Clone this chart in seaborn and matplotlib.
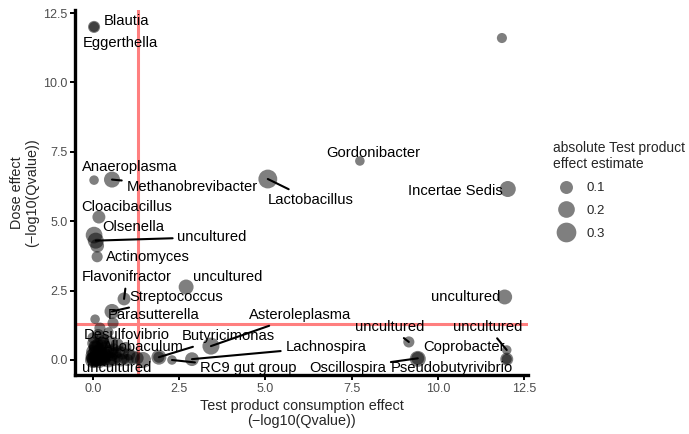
import numpy as np
import pandas as pd
import matplotlib
matplotlib.use("Agg")
import matplotlib.pyplot as plt
from matplotlib.lines import Line2D
import seaborn as sns

# genus-level results
genus = [
    "Blautia", "Eggerthella", "", "Gordonibacter", "Incertae Sedis",
    "Lactobacillus", "Anaeroplasma", "Methanobrevibacter", "Cloacibacillus",
    "Olsenella", "uncultured", "", "Actinomyces", "Flavonifractor",
    "Streptococcus", "Parasutterella", "uncultured", "uncultured", "", "", "",
    "Asteroleplasma", "Butyricimonas", "", "Lachnospira", "RC9 gut group", "",
    "uncultured", "uncultured", "Coprobacter", "Oscillospira",
    "Pseudobutyrivibrio", "Desulfovibrio", "Allobaculum", "uncultured",
]
consumption = [
    0.03, 0.03, 11.86, 7.74, 12.03,
    5.07, 0.03, 0.55, 0.17,
    0.03, 0.08, 0.12, 0.12, 0.90,
    0.55, 0.58, 2.70, 11.94, 0.06, 12.00, 0.20,
    3.42, 1.91, 1.91, 2.87, 2.29, 1.45,
    9.16, 12.00, 12.00, 9.42,
    9.42, 0.30, 0.50, 0.05,
]
dose = [
    12.00, 12.00, 11.60, 7.17, 6.16,
    6.52, 6.48, 6.50, 5.15,
    4.50, 4.30, 4.12, 3.72, 2.20,
    1.75, 1.33, 2.63, 2.27, 1.47, 0.03, 1.15,
    0.50, 0.10, 0.10, 0.03, 0.00, 0.00,
    0.65, 0.36, 0.03, 0.06,
    0.04, 0.60, 0.30, 0.00,
]
effect = [
    0.08, 0.04, 0.04, 0.03, 0.18,
    0.27, 0.03, 0.18, 0.10,
    0.20, 0.18, 0.12, 0.06, 0.10,
    0.15, 0.06, 0.15, 0.15, 0.03, 0.04, 0.06,
    0.21, 0.15, 0.06, 0.12, 0.03, 0.18,
    0.06, 0.03, 0.10, 0.10,
    0.18, 0.10, 0.10, 0.15,
]

# unlabelled genera crowded near the origin
cluster_consumption = [0.00, 0.02, 0.10, 0.15, 0.20, 0.25, 0.30, 0.00, 0.05,
                       0.10, 0.35, 0.40, 0.50, 0.60, 0.70, 0.80, 0.90, 1.00,
                       1.15, 1.28, 0.00, 0.15, 0.30, 0.45, 0.00, 0.03, 0.08,
                       0.12, 0.18, 0.22, 0.28, 0.33, 0.05, 0.10, 0.20, 0.40,
                       0.45, 0.55, 0.65, 0.02, 0.07, 0.13, 0.25, 0.35, 0.00,
                       0.60, 0.75, 0.85, 1.05, 0.70, 0.95, 0.50, 0.25]
cluster_dose = [0.05, 0.10, 0.00, 0.20, 0.05, 0.30, 0.10, 0.30, 0.50,
                0.40, 0.00, 0.15, 0.05, 0.00, 0.10, 0.00, 0.05, 0.00,
                0.10, 0.07, 0.80, 0.90, 0.70, 1.00, 0.00, 0.02, 0.05,
                0.10, 0.00, 0.15, 0.05, 0.20, 0.25, 0.15, 0.35, 0.30,
                0.00, 0.20, 0.25, 0.60, 0.45, 0.55, 0.50, 0.45, 0.15,
                0.40, 0.30, 0.25, 0.20, 0.55, 0.45, 0.65, 0.75]
cluster_effect = [0.12, 0.06, 0.10, 0.08, 0.15, 0.06, 0.10, 0.12, 0.08,
                  0.15, 0.06, 0.10, 0.12, 0.08, 0.06, 0.10, 0.06, 0.08,
                  0.12, 0.10, 0.06, 0.08, 0.06, 0.04, 0.18, 0.15, 0.12,
                  0.15, 0.18, 0.12, 0.15, 0.10, 0.12, 0.15, 0.10, 0.12,
                  0.15, 0.10, 0.08, 0.10, 0.12, 0.08, 0.10, 0.08, 0.15,
                  0.06, 0.08, 0.10, 0.08, 0.10, 0.06, 0.08, 0.10]

df = pd.concat([
    pd.DataFrame({"genus": genus, "consumption": consumption,
                  "dose": dose, "effect": effect}),
    pd.DataFrame({"genus": "", "consumption": cluster_consumption,
                  "dose": cluster_dose, "effect": cluster_effect}),
], ignore_index=True)

# label placement (repel-style, done by hand) and whether a segment is drawn
label_pos = {
    0: (0.96, 12.21, False), 1: (0.78, 11.42, False), 3: (8.14, 7.46, False),
    4: (10.50, 6.09, False), 5: (6.32, 5.76, True), 6: (1.07, 6.95, False),
    7: (2.87, 6.23, True), 8: (0.99, 5.51, False), 9: (1.16, 4.79, False),
    10: (3.45, 4.43, True), 12: (1.60, 3.71, False), 13: (0.98, 2.99, True),
    14: (2.40, 2.27, True), 15: (1.77, 1.62, False), 16: (3.91, 2.99, False),
    17: (10.80, 2.27, False), 21: (6.00, 1.62, True), 22: (3.91, 0.86, True),
    24: (6.75, 0.47, True), 25: (4.49, -0.29, True), 27: (8.60, 1.19, True),
    28: (11.45, 1.19, True), 29: (10.75, 0.47, False), 30: (7.39, -0.29, True),
    31: (10.40, -0.29, False), 32: (0.98, 0.90, False), 33: (1.45, 0.47, False),
    34: (0.69, -0.29, False),
}

sns.set_theme(style="ticks")
plt.rcParams["font.family"] = ["Liberation Sans", "DejaVu Sans"]

fig = plt.figure(figsize=(6.89, 4.34), dpi=100)
ax = fig.add_axes([0.109, 0.136, 0.657, 0.841])

size_norm = (0.0, 0.35)
size_range = (30, 230)
sns.scatterplot(data=df, x="consumption", y="dose", size="effect",
                sizes=size_range, size_norm=size_norm, color="black",
                alpha=0.5, linewidth=0, legend=False, ax=ax, zorder=3)

ax.axvline(-np.log10(0.05), color="#ff7f7f", lw=2.2, zorder=2)
ax.axhline(-np.log10(0.05), color="#ff7f7f", lw=2.2, zorder=2)

for i, (tx, ty, seg) in label_pos.items():
    px, py = df.loc[i, "consumption"], df.loc[i, "dose"]
    arrow = dict(arrowstyle="-", color="black", lw=1.5,
                 shrinkA=1, shrinkB=0) if seg else None
    ax.annotate(df.loc[i, "genus"], xy=(px, py), xytext=(tx, ty),
                ha="center", va="center", fontsize=10.6, color="black",
                arrowprops=arrow, zorder=4)

ax.set_xlim(-0.52, 12.61)
ax.set_ylim(-0.54, 12.61)
ax.set_xticks([0, 2.5, 5, 7.5, 10, 12.5])
ax.set_yticks([0, 2.5, 5, 7.5, 10, 12.5])
ax.set_xticklabels(["0.0", "2.5", "5.0", "7.5", "10.0", "12.5"])
ax.set_yticklabels(["0.0", "2.5", "5.0", "7.5", "10.0", "12.5"])
ax.tick_params(labelsize=9, labelcolor="#4d4d4d", color="black",
               width=1.4, length=3.5, pad=2)
for s in ["left", "bottom"]:
    ax.spines[s].set_linewidth(2.4)
    ax.spines[s].set_color("black")
sns.despine(ax=ax)

ax.set_xlabel("Test product consumption effect\n(\u2212log10(Qvalue))",
              fontsize=10.4, labelpad=3, linespacing=1.1)
ax.set_ylabel("Dose effect\n(\u2212log10(Qvalue))", fontsize=10.4,
              labelpad=3, linespacing=1.1)


def area(v):
    lo, hi = size_norm
    return size_range[0] + (v - lo) / (hi - lo) * (size_range[1] - size_range[0])


handles = [Line2D([], [], ls="", marker="o", color="black", alpha=0.5,
                  markeredgewidth=0, markersize=np.sqrt(area(v)))
           for v in [0.1, 0.2, 0.3]]
leg = fig.legend(handles, ["0.1", "0.2", "0.3"],
                 title="absolute Test product\neffect estimate",
                 loc="upper left", bbox_to_anchor=(0.795, 0.688),
                 frameon=False, fontsize=9.5, title_fontsize=10,
                 handletextpad=0.5, labelspacing=0.8, borderaxespad=0)
leg._legend_box.align = "left"
leg._legend_box.sep = 8

fig.savefig("out.png", dpi=100)
